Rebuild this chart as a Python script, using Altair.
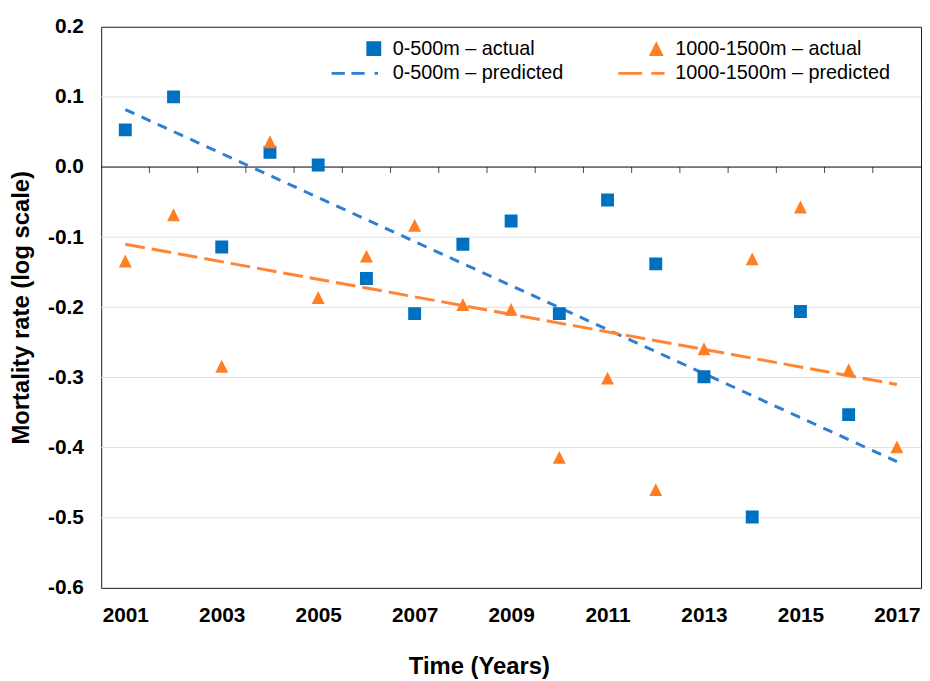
import altair as alt
import pandas as pd

# ---- data ----
years = list(range(2001, 2018))
shallow_actual = [0.053, 0.100, -0.114, 0.021, 0.003, -0.159, -0.209, -0.110, -0.077,
                  -0.209, -0.047, -0.138, -0.299, -0.499, -0.206, -0.353, None]
deep_actual = [-0.134, -0.068, -0.284, 0.036, -0.186, -0.127, -0.083, -0.196, -0.203,
               -0.414, -0.301, -0.460, -0.259, -0.131, -0.057, -0.289, -0.399]
fit_years = [2001, 2017]
shallow_pred = [0.082, -0.420]
deep_pred = [-0.110, -0.310]

# legend order (filled column by column): left column 0-500m, right column 1000-1500m
series_names = ["0-500m – actual", "0-500m – predicted",
                "1000-1500m – actual", "1000-1500m – predicted"]
series_colors = ["#0070C0", "#2E7ED2", "#FF7F27", "#FF8533"]

x_label_values = [2001, 2003, 2005, 2007, 2009, 2011, 2013, 2015, 2017]
y_tick_values = [0.2, 0.1, 0.0, -0.1, -0.2, -0.3, -0.4, -0.5, -0.6]
minor_tick_years = [2001.5 + i for i in range(16)]

# symbol shapes (unit box paths); degenerate sub-paths keep legend bounds identical
ext = "M-6,-1ZM1.2,1Z"
shape_paths = [
    "M-1,-1H1V1H-1Z" + ext,
    "M-5.67,-0.2H-3.89V0.2H-5.67ZM-3,-0.2H-1.23V0.2H-3ZM0.11,-0.2H0.56V0.2H0.11Z" + ext,
    "M0,-1L1,1H-1Z" + ext,
    "M-5.11,-0.2H-1.91V0.2H-5.11ZM-0.67,-0.2H1.11V0.2H-0.67Z" + ext,
]

# ---- tables ----
rows = []
for yr, v in zip(years, shallow_actual):
    if v is not None:
        rows.append({"year": yr, "value": v, "series": series_names[0]})
for yr, v in zip(years, deep_actual):
    if v is not None:
        rows.append({"year": yr, "value": v, "series": series_names[2]})
points_df = pd.DataFrame(rows)
shallow_fit_df = pd.DataFrame({"year": fit_years, "value": shallow_pred})
deep_fit_df = pd.DataFrame({"year": fit_years, "value": deep_pred})
grid_df = pd.DataFrame({"value": [v for v in y_tick_values if -0.6 < v < 0.2 and v != 0.0]})
zero_df = pd.DataFrame({"value": [0.0]})
ticks_df = pd.DataFrame({"year": minor_tick_years, "value": [0.0] * len(minor_tick_years)})

FONT = "Liberation Sans"

x_enc = alt.X(
    "year:Q",
    scale=alt.Scale(domain=[2000.5, 2017.5], nice=False, zero=False),
    axis=alt.Axis(values=x_label_values, format="d", title="Time (Years)",
                  ticks=False, domain=False, grid=False, labelPadding=17,
                  titleX=381, titleY=67, titleBaseline="top"),
)
y_enc = alt.Y(
    "value:Q",
    scale=alt.Scale(domain=[-0.6, 0.2], nice=False, zero=False),
    axis=alt.Axis(values=y_tick_values,
                  labelExpr="replace(format(datum.value, '.1f'), '\u2212', '-')",
                  title="Mortality rate (log scale)", ticks=False, domain=False,
                  grid=False, labelPadding=18, titlePadding=14),
)

grid = alt.Chart(grid_df).mark_rule(color="#E0E0E0", strokeWidth=1).encode(y=y_enc)
zero = alt.Chart(zero_df).mark_rule(color="#000000", strokeWidth=1).encode(y=y_enc)
ticks = alt.Chart(ticks_df).mark_tick(
    color="#000000", orient="vertical", size=6, thickness=1, yOffset=3
).encode(x=x_enc, y=y_enc)

shallow_line = alt.Chart(shallow_fit_df).mark_line(
    color=series_colors[1], strokeWidth=3, strokeDash=[10, 8]
).encode(x=x_enc, y=y_enc)
deep_line = alt.Chart(deep_fit_df).mark_line(
    color=series_colors[3], strokeWidth=3, strokeDash=[20, 7]
).encode(x=x_enc, y=y_enc)

legend = alt.Legend(
    title=None, orient="none", legendX=265, legendY=12, columns=2,
    columnPadding=48, rowPadding=5, symbolSize=225, symbolStrokeWidth=0,
    symbolOpacity=1, labelFont=FONT, labelFontSize=20, labelColor="#000000",
    labelLimit=400, labelOffset=9, padding=0,
)

points = alt.Chart(points_df).mark_point(filled=True, opacity=1, size=169, strokeWidth=0).encode(
    x=x_enc, y=y_enc,
    color=alt.Color("series:N", scale=alt.Scale(domain=series_names, range=series_colors),
                    legend=legend),
    shape=alt.Shape("series:N", scale=alt.Scale(domain=series_names, range=shape_paths),
                    legend=legend),
)

chart = alt.layer(grid, zero, ticks, shallow_line, deep_line, points).properties(
    width=827, height=566,
    autosize=alt.AutoSizeParams(type="none"),
    padding={"left": 94, "top": 16, "right": 1, "bottom": 90},
    background="#FFFFFF",
).configure_view(
    stroke="#1A1A1A", strokeWidth=1
).configure_axis(
    labelFont=FONT, labelFontSize=21, labelFontWeight="bold", labelColor="#000000",
    titleFont=FONT, titleFontSize=24, titleFontWeight="bold", titleColor="#000000",
)

chart.save("out.html", embed_options={"renderer": "svg", "actions": False})
